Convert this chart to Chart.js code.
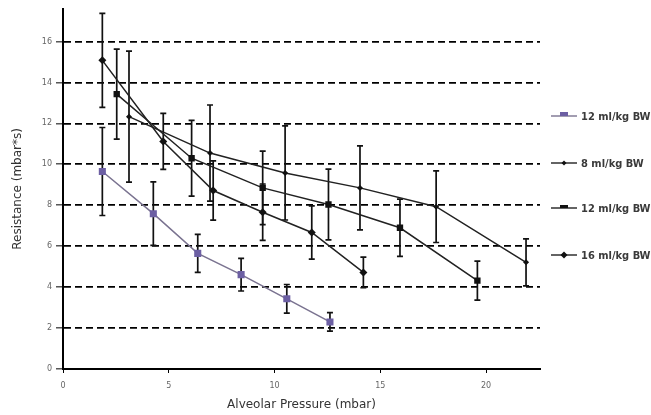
<!DOCTYPE html>
<html>
<head>
<meta charset="utf-8">
<script src="https://cdn.jsdelivr.net/npm/chart.js@4"></script>
<style>
html,body{margin:0;padding:0;background:#fff;}
#wrap{position:relative;width:651px;height:415px;}
#legend .item{position:absolute;left:551px;height:14px;margin-top:-7px;display:flex;align-items:center;
  font:bold 11px "DejaVu Sans Condensed","DejaVu Sans",sans-serif;color:#3a3a3a;white-space:nowrap;}
#legend svg{margin-right:4px;}
</style>
</head>
<body>
<div id="wrap">
<canvas id="chart" width="651" height="415"></canvas>
<div id="legend"></div>
</div>
<script>
document.addEventListener("DOMContentLoaded", () => {

// tick values
const xTickVals = [0, 5, 10, 15, 20];
const yTickVals = [0, 2, 4, 6, 8, 10, 12, 14, 16];

// legend labels, in legend order
const seriesNames = ["12 ml/kg BW", "8 ml/kg BW", "12 ml/kg BW", "16 ml/kg BW"];

// purple series (12 ml/kg BW)
const purpleX = [1.86, 4.27, 6.37, 8.42, 10.58, 12.62];
const purpleY = [9.65, 7.59, 5.65, 4.61, 3.43, 2.3];
const purpleErr = [2.15, 1.55, 0.93, 0.8, 0.7, 0.45];

// 8 ml/kg BW
const ml8X = [3.12, 6.95, 10.5, 14.04, 17.64, 21.89];
const ml8Y = [12.33, 10.55, 9.58, 8.85, 7.93, 5.21];
const ml8Err = [3.2, 2.35, 2.3, 2.05, 1.75, 1.15];

// 12 ml/kg BW (black)
const ml12X = [2.54, 6.08, 9.44, 12.55, 15.93, 19.59];
const ml12Y = [13.43, 10.3, 8.85, 8.04, 6.9, 4.32];
const ml12Err = [2.2, 1.85, 1.8, 1.73, 1.4, 0.95];

// 16 ml/kg BW
const ml16X = [1.86, 4.74, 7.1, 9.44, 11.76, 14.2];
const ml16Y = [15.08, 11.12, 8.72, 7.66, 6.67, 4.72];
const ml16Err = [2.3, 1.37, 1.45, 1.38, 1.3, 0.75];

const pts = (xs, ys) => xs.map((x, i) => ({x, y: ys[i]}));

const font = "'DejaVu Sans', sans-serif";

// draws error bars with caps under the markers
const errorBars = {
  id: "errorBars",
  beforeDatasetsDraw(chart){
    const {ctx, scales: {x, y}} = chart;
    ctx.save();
    ctx.strokeStyle = "#111";
    ctx.lineWidth = 1.7;
    chart.data.datasets.forEach(ds => {
      ds.data.forEach((p, i) => {
        const px = x.getPixelForValue(p.x);
        const top = y.getPixelForValue(p.y + ds.err[i]);
        const bot = y.getPixelForValue(p.y - ds.err[i]);
        ctx.beginPath();
        ctx.moveTo(px, top); ctx.lineTo(px, bot);
        ctx.moveTo(px - 3, top); ctx.lineTo(px + 3, top);
        ctx.moveTo(px - 3, bot); ctx.lineTo(px + 3, bot);
        ctx.stroke();
      });
    });
    ctx.restore();
  }
};

const styles = [
  {line: "#7a7390", fill: "#6c5fa3", shape: "rect", r: 5},
  {line: "#222", fill: "#111", shape: "rectRot", r: 3},
  {line: "#222", fill: "#111", shape: "rect", r: 4.5},
  {line: "#222", fill: "#111", shape: "rectRot", r: 4}
];

const series = [
  [purpleX, purpleY, purpleErr],
  [ml8X, ml8Y, ml8Err],
  [ml12X, ml12Y, ml12Err],
  [ml16X, ml16Y, ml16Err]
];

const datasets = series.map((s, i) => ({
  label: seriesNames[i],
  data: pts(s[0], s[1]),
  err: s[2],
  showLine: true,
  borderColor: styles[i].line,
  borderWidth: 1.5,
  backgroundColor: styles[i].fill,
  pointBorderColor: styles[i].fill,
  pointBackgroundColor: styles[i].fill,
  pointStyle: styles[i].shape,
  pointRadius: styles[i].r,
  pointBorderWidth: 0,
  tension: 0
}));

new Chart(document.getElementById("chart"), {
  type: "scatter",
  data: {datasets},
  options: {
    responsive: false,
    animation: false,
    layout: {padding: {top: 6, right: 111, left: 0, bottom: 0}},
    plugins: {legend: {display: false}, tooltip: {enabled: false}},
    scales: {
      x: {
        type: "linear", min: 0, max: 22.55,
        afterBuildTicks: s => { s.ticks = xTickVals.map(v => ({value: v})); },
        afterFit: s => { s.height = 46; },
        ticks: {font: {size: 8, family: font}, color: "#666", padding: 8, maxRotation: 0},
        grid: {drawOnChartArea: false, drawTicks: true, tickLength: 4, tickColor: "#000", tickWidth: 1},
        border: {color: "#000", width: 2},
        title: {display: true, text: "Alveolar Pressure (mbar)", color: "#333",
          font: {size: 12, family: font}, padding: {top: 0, bottom: 3}}
      },
      y: {
        type: "linear", min: 0, max: 17.6,
        afterBuildTicks: s => { s.ticks = yTickVals.map(v => ({value: v})); },
        afterFit: s => { s.width = 63; },
        ticks: {font: {size: 8, family: font}, color: "#666", padding: 4},
        grid: {
          color: c => (c.tick && c.tick.value === 0) ? "rgba(0,0,0,0)" : "#000",
          lineWidth: 1.7, tickLength: 7, tickColor: "#000", tickWidth: 1
        },
        border: {color: "#000", width: 2, dash: [7, 4]},
        title: {display: true, text: "Resistance (mbar*s)", color: "#333",
          font: {size: 12, family: font}, padding: {top: 11, bottom: 0}}
      }
    }
  },
  plugins: [errorBars]
});

// legend to the right of the plot
const legendRows = [116, 163, 208, 255];
const legend = document.getElementById("legend");
seriesNames.forEach((name, i) => {
  const st = styles[i];
  let mark;
  if(st.shape === "rect"){
    const h = i === 0 ? 4 : 3;
    mark = `<rect x="9" y="${5 - h}" width="8" height="${h}" fill="${st.fill}"/>`;
  } else {
    const r = st.r - 0.5;
    mark = `<polygon points="13,${5 - r} ${13 + r},5 13,${5 + r} ${13 - r},5" fill="${st.fill}"/>`;
  }
  const div = document.createElement("div");
  div.className = "item";
  div.style.top = legendRows[i] + "px";
  div.innerHTML = `<svg width="26" height="10"><line x1="0" y1="5" x2="26" y2="5" stroke="${st.line}" stroke-width="1.4"/>${mark}</svg><span>${name}</span>`;
  legend.appendChild(div);
});

});
</script>
</body>
</html>
